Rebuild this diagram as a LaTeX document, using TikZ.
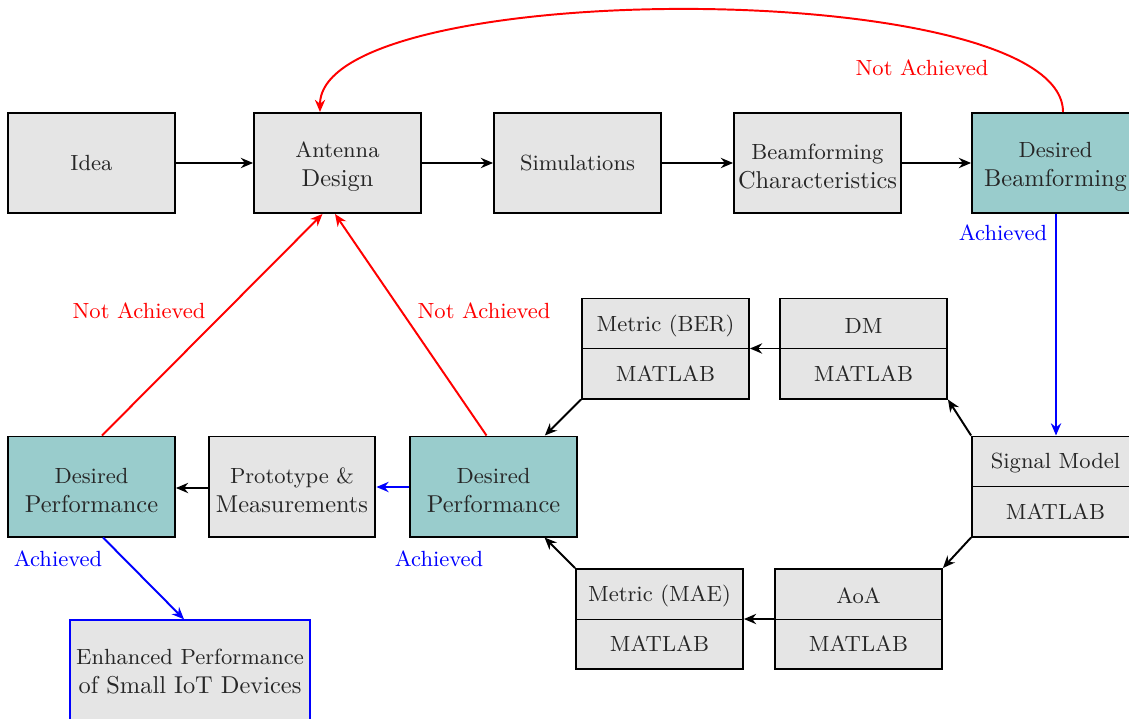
\documentclass[tikz,border=0pt]{standalone}
\usetikzlibrary{arrows.meta,calc}
\definecolor{boxgray}{RGB}{229,229,229}
\definecolor{boxteal}{RGB}{153,204,204}
\newcommand{\toplift}{\rule{0pt}{9.3pt}}
\begin{document}
\begin{tikzpicture}[x=0.4098pt,y=-0.4098pt,
  box/.style={draw=black,thick,fill=boxgray,minimum width=68.4pt,minimum height=41pt,
    inner sep=1pt,align=center,text=black!85,font=\small},
  tealbox/.style={box,fill=boxteal},
  lbl/.style={font=\small,inner sep=0pt},
  txt/.style={font=\small,inner sep=0pt,text=black!85},
  arr/.style={draw=black,line width=0.8pt,-{Stealth[length=5pt,width=4.2pt]}},
  redarr/.style={arr,draw=red},
  bluearr/.style={arr,draw=blue},
  sep/.style={draw=black,line width=0.4pt}]
\useasboundingbox (0,0) rectangle (1129,718);

% top row
\node[box] (idea) at (91.5,163) {Idea};
\node[box] (ant) at (337.5,163) {\toplift Antenna\\[0.9pt]\normalsize Design};
\node[box] (sim) at (577.5,163) {Simulations};
\node[box] (bch) at (817.5,163) {\toplift Beamforming\\[0.9pt]\normalsize Characteristics};
\node[tealbox] (dbf) at (1055.5,163) {\toplift Desired\\[0.9pt]\normalsize Beamforming};

% split boxes
\node[box] (sig) at (1055.5,486.5) {};
\node[box] (dm) at (863.5,348.5) {};
\node[box] (ber) at (665.5,348.5) {};
\node[box] (aoa) at (858.5,619) {};
\node[box] (mae) at (659.5,619) {};
\foreach \n/\t in {sig/Signal Model,dm/DM,ber/Metric (BER),aoa/AoA,mae/Metric (MAE)}{
  \draw[sep] (\n.west) -- (\n.east);
  \node[txt] (\n-top) at ($(\n.center)+(0,-23)$) {\t};
  \node[txt] (\n-bot) at ($(\n.center)+(0,25)$) {MATLAB};
}

% bottom row
\node[tealbox] (dp2) at (493.5,486.5) {\toplift Desired\\[0.9pt]\normalsize Performance};
\node[box] (proto) at (292,486.5) {\toplift Prototype \&\\[0.9pt]\normalsize Measurements};
\node[tealbox] (dp1) at (91.5,486.5) {\toplift Desired\\[0.9pt]\normalsize Performance};
\node[box,draw=blue,minimum width=98.4pt,minimum height=42pt] (enh) at (190,671.5)
  {Enhanced Performance\\[1.2pt]\normalsize of Small IoT Devices};

% top row arrows
\draw[arr] (idea.east) -- (ant.west);
\draw[arr] (ant.east) -- (sim.west);
\draw[arr] (sim.east) -- (bch.west);
\draw[arr] (bch.east) -- (dbf.west);

% not achieved loop
\draw[redarr] ($(dbf.north)+(7.5,0)$) to[out=90,in=90,looseness=0.47] ($(ant.north)+(-17.5,0)$);
\node[lbl,text=red] (na1) at (922,68) {Not Achieved};

% achieved down
\draw[bluearr] ($(dbf.south)+(0.5,0)$) -- ($(sig.north)+(0.5,0)$);
\node[lbl,text=blue] (a1) at (1003,233) {Achieved};

% processing loop
\draw[arr] (sig.north west) -- (dm.south east);
\draw[arr] (dm.west) -- (ber.east);
\draw[arr] (ber.south west) -- (dp2);
\draw[arr] (sig.south west) -- (aoa.north east);
\draw[arr] (aoa.west) -- (mae.east);
\draw[arr] (mae.north west) -- (dp2);

% bottom row
\draw[bluearr] ($(dp2.west)+(0,0.5)$) -- ($(proto.east)+(0,0.5)$);
\draw[arr] ($(proto.west)+(0,1.5)$) -- ($(dp1.east)+(0,1.5)$);
\node[lbl,text=blue] (a2) at (439,559) {Achieved};
\node[lbl,text=blue] (a3) at (58,559) {Achieved};
\draw[bluearr] ($(dp1.south)+(11.5,0)$) -- ($(enh.north)+(-6,0)$);

% not achieved back to antenna design
\draw[redarr] ($(dp1.north)+(10.5,0)$) -- ($(ant.south)+(-15,0)$);
\draw[redarr] ($(dp2.north)+(-7,0)$) -- ($(ant.south)+(-2.5,0)$);
\node[lbl,text=red] (na2) at (139,311) {Not Achieved};
\node[lbl,text=red] (na3) at (484,311) {Not Achieved};
\end{tikzpicture}
\end{document}
